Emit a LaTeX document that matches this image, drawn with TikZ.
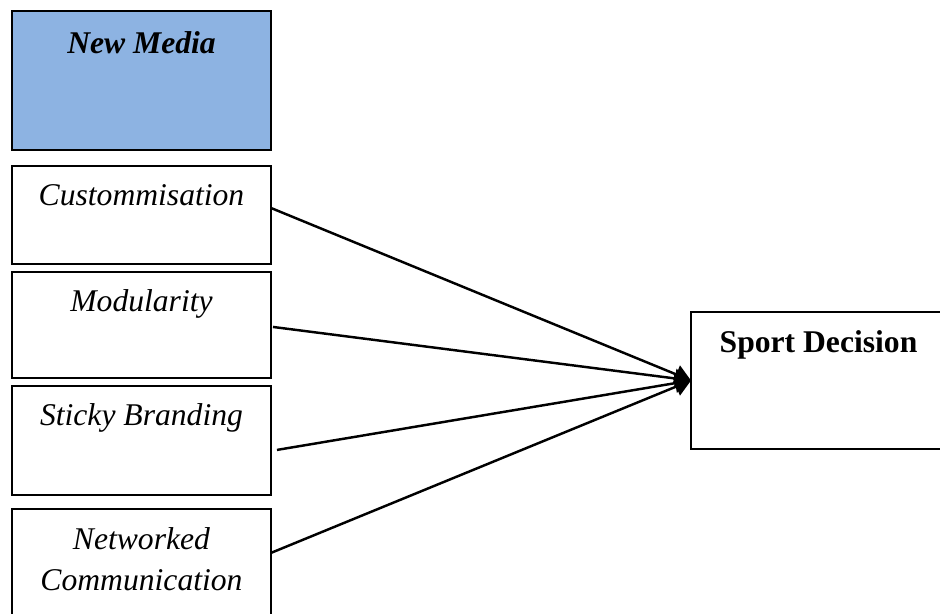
\documentclass[tikz,border=0pt]{standalone}
\usepackage{fontspec}
\setmainfont{Liberation Serif}
\usetikzlibrary{positioning,arrows.meta}
\definecolor{mediablue}{RGB}{141,179,226}
\tikzset{
  box/.style  ={rectangle, draw=black, line width=1.1pt, minimum width=5.18cm, inner sep=0pt, outer sep=0pt},
  lbl/.style  ={font=\fontsize{18}{23.8}\selectfont, align=center, inner sep=0pt, anchor=base, yshift=-0.8cm},
  link/.style ={-{Triangle[length=3.2mm,width=3.8mm]}, line width=1.4pt},
}
\begin{document}
\begin{tikzpicture}[x=0.02cm,y=-0.02cm]
\useasboundingbox (0,0) rectangle (940,614);
\node[box, fill=mediablue, minimum height=2.78cm,
  label={[lbl, yshift=-0.06cm]north:\textbf{\textit{New Media}}}] (media) at (141.5,80.5) {};
\node[box, minimum height=1.96cm, below=0.32cm of media,
  label={[lbl]north:\textit{Custommisation}}] (cust) {};
\node[box, minimum height=2.12cm, below=0.16cm of cust,
  label={[lbl]north:\textit{Modularity}}] (mod) {};
\node[box, minimum height=2.18cm, below=0.16cm of mod,
  label={[lbl]north:\textit{Sticky Branding}}] (sticky) {};
\node[box, minimum height=2.62cm, below=0.28cm of sticky,
  label={[lbl, yshift=-0.84cm]north:\textit{Networked}\\\textit{Communication}}] (net) {};
\node[box, minimum width=5.78cm, minimum height=2.74cm,
  label={[lbl, xshift=-0.34cm]north:\textbf{Sport Decision}}] (sd) at (835.5,380.5) {};
% links into the decision box
\draw[link] ([yshift=0.14cm]cust.east) -- (sd.west);
\draw[link] ([xshift=0.04cm,yshift=-0.04cm]mod.east) -- (sd.west);
\draw[link] ([xshift=0.12cm,yshift=-0.19cm]sticky.east) -- (sd.west);
\draw[link] ([yshift=0.43cm]net.east) -- (sd.west);
\end{tikzpicture}
\end{document}
